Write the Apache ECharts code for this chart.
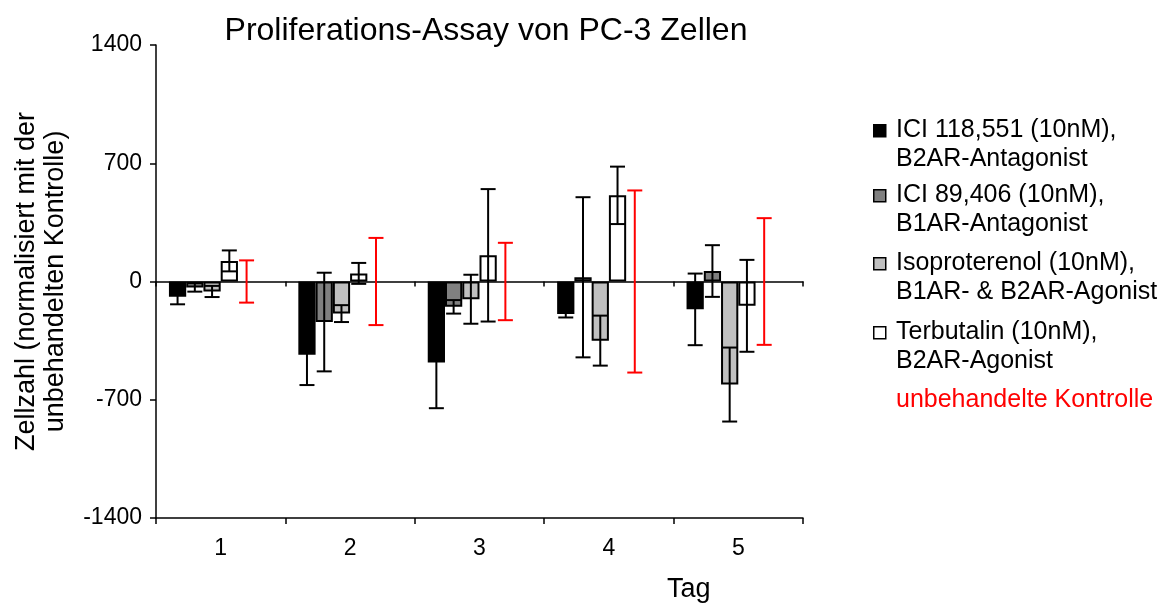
<!DOCTYPE html>
<html>
<head>
<meta charset="utf-8">
<script src="https://cdn.jsdelivr.net/npm/echarts@6/dist/echarts.min.js"></script>
<style>
html,body{margin:0;padding:0;background:#fff;}
#main{width:1168px;height:606px;}
</style>
</head>
<body>
<div id="main"></div>
<script>
// Tage
var categories = ['1','2','3','4','5'];
var seriesNames = [
	'ICI 118,551 (10nM),\nB2AR-Antagonist',
	'ICI 89,406 (10nM),\nB1AR-Antagonist',
	'Isoproterenol (10nM),\nB1AR- & B2AR-Agonist',
	'Terbutalin (10nM),\nB2AR-Agonist'
];
var seriesColors = ['#000000','#808080','#c0c0c0','#ffffff'];

// Mittelwerte
var ici118 = [-90, -433, -480, -193, -165];
var ici89 = [-35, -240, -150, 25, 62];
var iso = [-59, -190, -105, -350, -610];
var terb = [122, 48, 155, 510, -144];
// Fehler (+/-)
var ici118Err = [45, 180, 270, 20, 212];
var ici89Err = [25, 292, 40, 474, 153];
var isoErr = [33, 50, 145, 148, 219];
var terbErr = [62, 62, 392, 170, 272];
// unbehandelte Kontrolle
var controlMean = [0, 0, 0, 0, 0];
var controlErr = [125, 258, 229, 539, 375];

var FONT = '"Liberation Sans", Arial, sans-serif';
var CAT_GAP = 0.2;
var SLOTS = 6;

var values = [ici118, ici89, iso, terb];
var errors = [ici118Err, ici89Err, isoErr, terbErr];

function errorData(vals, errs) {
	var out = [];
	for (var i = 0; i < vals.length; i++) {
		out.push([i, vals[i], errs[i]]);
	}
	return out;
}

function makeErrorRender(slot, color) {
	return function (params, api) {
		var idx = api.value(0);
		var v = api.value(1);
		var e = api.value(2);
		var band = api.size([1, 0])[0];
		var w = band * (1 - CAT_GAP) / SLOTS;
		var cx = api.coord([idx, 0])[0] + (slot - (SLOTS - 1) / 2) * w;
		var hi = api.coord([idx, v + e])[1];
		var lo = api.coord([idx, v - e])[1];
		var half = 7.5;
		var style = {stroke: color, lineWidth: 2};
		return {
			type: 'group',
			children: [
				{type: 'line', shape: {x1: cx, y1: hi, x2: cx, y2: lo}, style: style},
				{type: 'line', shape: {x1: cx - half, y1: hi, x2: cx + half, y2: hi}, style: style},
				{type: 'line', shape: {x1: cx - half, y1: lo, x2: cx + half, y2: lo}, style: style}
			]
		};
	};
}

var series = [];
for (var s = 0; s < values.length; s++) {
	series.push({
		name: seriesNames[s],
		type: 'bar',
		xAxisIndex: 0,
		barGap: '0%',
		barCategoryGap: (CAT_GAP * 100) + '%',
		data: values[s],
		itemStyle: {color: seriesColors[s], borderColor: '#000', borderWidth: 2},
		z: 2
	});
}
// Platz fuer Kontrolle und leere Reihe
series.push({
	name: 'Kontrolle', type: 'bar', xAxisIndex: 0, barGap: '0%',
	barCategoryGap: (CAT_GAP * 100) + '%', data: controlMean,
	itemStyle: {color: 'rgba(0,0,0,0)', borderWidth: 0}, silent: true
});
series.push({
	name: 'leer', type: 'bar', xAxisIndex: 0, barGap: '0%',
	barCategoryGap: (CAT_GAP * 100) + '%', data: ['-','-','-','-','-'],
	silent: true
});
for (var s2 = 0; s2 < values.length; s2++) {
	series.push({
		type: 'custom',
		xAxisIndex: 0,
		renderItem: makeErrorRender(s2, '#000'),
		data: errorData(values[s2], errors[s2]),
		z: 5,
		silent: true
	});
}
series.push({
	type: 'custom',
	xAxisIndex: 0,
	renderItem: makeErrorRender(4, '#ff0000'),
	data: errorData(controlMean, controlErr),
	z: 5,
	silent: true
});

// Legende
var legendTops = [116, 181, 249, 318];
var graphics = [];
for (var g = 0; g < seriesNames.length; g++) {
	graphics.push({
		type: 'rect', left: 873, top: legendTops[g] + 8,
		shape: {width: 12, height: 12},
		style: {fill: seriesColors[g], stroke: '#000', lineWidth: 1.5}
	});
	graphics.push({
		type: 'text', left: 896, top: legendTops[g],
		style: {text: seriesNames[g], font: '25px ' + FONT, fill: '#000', lineHeight: 29}
	});
}
graphics.push({
	type: 'text', left: 896, top: 386,
	style: {text: 'unbehandelte Kontrolle', font: '25px ' + FONT, fill: '#ff0000', lineHeight: 29}
});
graphics.push({
	type: 'text', left: 667, top: 576,
	style: {text: 'Tag', font: '27px ' + FONT, fill: '#000'}
});

var myChart = echarts.init(document.getElementById('main'));
var option = {
	animation: false,
	backgroundColor: '#fff',
	title: {
		text: 'Proliferations-Assay von PC-3 Zellen',
		left: 481,
		textAlign: 'center',
		top: 10,
		textStyle: {fontFamily: FONT, fontSize: 32, fontWeight: 'normal', color: '#000'}
	},
	grid: {left: 156, right: 365, top: 45, bottom: 88, containLabel: false},
	xAxis: [{
		type: 'category',
		data: categories,
		position: 'bottom',
		axisLine: {onZero: true, lineStyle: {color: '#000', width: 1.5}},
		axisTick: {show: true, length: 5, lineStyle: {color: '#000', width: 1.5}},
		axisLabel: {show: false}
	}, {
		type: 'category',
		data: categories,
		position: 'bottom',
		axisLine: {onZero: false, lineStyle: {color: '#000', width: 1.5}},
		axisTick: {show: true, length: 6, lineStyle: {color: '#000', width: 1.5}},
		axisLabel: {fontFamily: FONT, fontSize: 23, color: '#000', margin: 19}
	}],
	yAxis: {
		type: 'value',
		min: -1400,
		max: 1400,
		interval: 700,
		name: 'Zellzahl (normalisiert mit der\nunbehandelten Kontrolle)',
		nameLocation: 'middle',
		nameGap: 86,
		nameTextStyle: {fontFamily: FONT, fontSize: 27, color: '#000', lineHeight: 29},
		axisLine: {show: true, lineStyle: {color: '#000', width: 1.5}},
		axisTick: {show: true, length: 6, lineStyle: {color: '#000', width: 1.5}},
		splitLine: {show: false},
		axisLabel: {
			fontFamily: FONT, fontSize: 23, color: '#000', margin: 14,
			formatter: function (v) { return String(v); }
		}
	},
	graphic: graphics,
	series: series
};
myChart.setOption(option);
</script>
</body>
</html>
